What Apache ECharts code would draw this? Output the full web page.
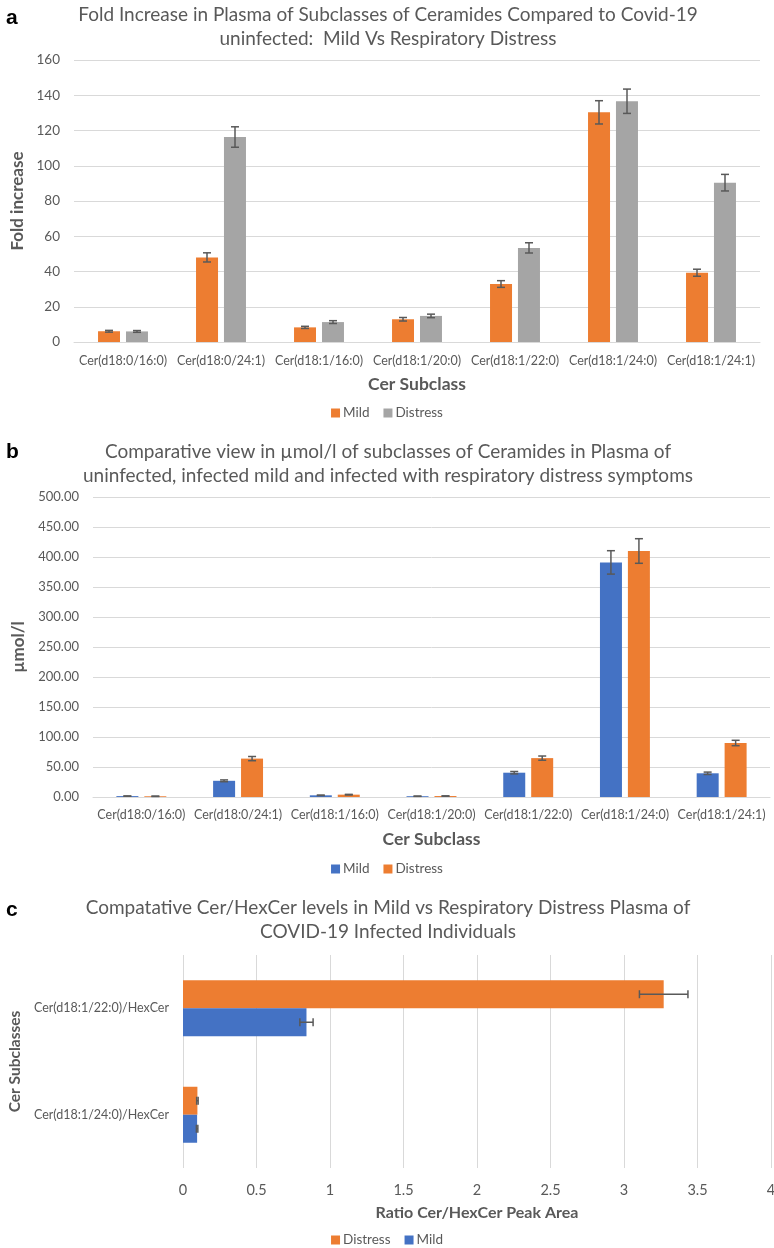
<!DOCTYPE html>
<html><head><meta charset="utf-8">
<script src="https://cdn.jsdelivr.net/npm/echarts@6/dist/echarts.min.js"></script>
<style>html,body{margin:0;padding:0;background:#fff;width:774px;height:1248px;overflow:hidden}
.p{position:absolute;left:0;width:774px}</style></head>
<body>
<div id="ca" class="p" style="top:0;height:440px"></div>
<div id="cb" class="p" style="top:440px;height:450px"></div>
<div id="cc" class="p" style="top:890px;height:358px"></div>
<script>
// ---------- data ----------
const categories = ['Cer(d18:0/16:0)','Cer(d18:0/24:1)','Cer(d18:1/16:0)','Cer(d18:1/20:0)','Cer(d18:1/22:0)','Cer(d18:1/24:0)','Cer(d18:1/24:1)'];
// panel a: fold increase
const foldMild = [6.1, 48.0, 8.3, 12.9, 32.9, 130.3, 39.3];
const foldMildErr = [0.5, 2.6, 0.6, 1.0, 1.9, 6.6, 2.0];
const foldDistress = [6.0, 116.3, 11.3, 14.8, 53.4, 136.6, 90.4];
const foldDistressErr = [0.5, 5.8, 0.8, 1.0, 2.9, 6.9, 4.7];
// panel b: umol/l
const umolMild = [1.5, 27.0, 2.8, 1.3, 40.5, 391, 39.5];
const umolMildErr = [0.3, 1.5, 0.4, 0.2, 2.0, 19.5, 2.0];
const umolDistress = [1.2, 64.0, 3.9, 1.6, 64.8, 410, 90.0];
const umolDistressErr = [0.3, 3.5, 0.5, 0.3, 3.5, 20.5, 4.5];
// panel c: ratio Cer/HexCer (bottom to top)
const ratioCategories = ['Cer(d18:1/24:0)/HexCer','Cer(d18:1/22:0)/HexCer'];
const ratioDistress = [0.098, 3.27];
const ratioDistressErr = [0.005, 0.165];
const ratioMild = [0.096, 0.84];
const ratioMildErr = [0.005, 0.045];

// ---------- style ----------
const FONT = 'Lato, "Liberation Sans", sans-serif';
const TXT = '#595959';
const GRID = '#D9D9D9';
const ORANGE = '#ED7D31', GRAY = '#A5A5A5', BLUE = '#4472C4';
const ERR = '#595959';

function errData(vals, errs){ return vals.map((v,i)=>[i, v-errs[i], v+errs[i]]); }
function errV(offset){
  return function(params, api){
    const x = api.value(0), lo = api.value(1), hi = api.value(2);
    const p1 = api.coord([x, hi]), p2 = api.coord([x, lo]);
    const cx = p1[0] + offset, w = 4;
    const st = {stroke: ERR, lineWidth: 1.5};
    return {type:'group', children:[
      {type:'line', shape:{x1:cx,y1:p1[1],x2:cx,y2:p2[1]}, style:st},
      {type:'line', shape:{x1:cx-w,y1:p1[1],x2:cx+w,y2:p1[1]}, style:st},
      {type:'line', shape:{x1:cx-w,y1:p2[1],x2:cx+w,y2:p2[1]}, style:st}
    ]};
  };
}
function errH(offset){
  return function(params, api){
    const y = api.value(0), lo = api.value(1), hi = api.value(2);
    const p1 = api.coord([lo, y]), p2 = api.coord([hi, y]);
    const cy = p1[1] + offset, h = 4;
    const st = {stroke: ERR, lineWidth: 1.5};
    return {type:'group', children:[
      {type:'line', shape:{x1:p1[0],y1:cy,x2:p2[0],y2:cy}, style:st},
      {type:'line', shape:{x1:p1[0],y1:cy-h,x2:p1[0],y2:cy+h}, style:st},
      {type:'line', shape:{x1:p2[0],y1:cy-h,x2:p2[0],y2:cy+h}, style:st}
    ]};
  };
}
function letter(t, y){
  return {type:'text', left:6, top:y, style:{text:t, font:'bold 21px "Liberation Sans", Arial, sans-serif', fill:'#000'}};
}
function titleText(text, y){
  return {type:'text', x:388, y:y, style:{text:text, align:'center', verticalAlign:'top',
    fontFamily:FONT, fontSize:19, fill:TXT, lineHeight:24}};
}
function legendOpt(names, top){
  return {data:names, left:'center', top:top, padding:0, icon:'rect', itemWidth:9, itemHeight:9, itemGap:14,
    textStyle:{fontFamily:FONT, fontSize:13.5, color:TXT, padding:[0,0,0,-2]}};
}
const catLabel = {fontFamily:FONT, fontSize:12.5, color:TXT};
const axTitle = (s)=>({fontFamily:FONT, fontSize:s, fontWeight:'bold', color:TXT});

// ---------- panel a ----------
const ca = echarts.init(document.getElementById('ca'), null, {renderer:'canvas'});
ca.setOption({
  animation:false,
  graphic:[letter('a', 8), titleText('Fold Increase in Plasma of Subclasses of Ceramides Compared to Covid-19\nuninfected:  Mild Vs Respiratory Distress', 3)],
  legend: legendOpt(['Mild','Distress'], 406),
  grid:{left:74, top:60, width:686, height:282, outerBoundsMode:'none'},
  xAxis:{type:'category', data:categories, axisTick:{show:false},
    axisLine:{lineStyle:{color:GRID, width:1}},
    axisLabel:Object.assign({margin:12, interval:0}, catLabel),
    name:'Cer Subclass', nameLocation:'middle', nameGap:33, nameTextStyle:axTitle(17.5)},
  yAxis:{type:'value', min:0, max:160, interval:20,
    axisLabel:{fontFamily:FONT, fontSize:13.5, color:TXT, margin:14},
    splitLine:{lineStyle:{color:GRID, width:1}},
    name:'Fold increase', nameLocation:'middle', nameGap:38, nameRotate:90, nameTextStyle:axTitle(17)},
  series:[
    {name:'Mild', type:'bar', data:foldMild, barWidth:22, barGap:'27%', itemStyle:{color:ORANGE}},
    {name:'Distress', type:'bar', data:foldDistress, barWidth:22, barGap:'27%', itemStyle:{color:GRAY}},
    {type:'custom', renderItem:errV(-14), data:errData(foldMild, foldMildErr), encode:{x:0, y:[1,2]}, z:5},
    {type:'custom', renderItem:errV(14), data:errData(foldDistress, foldDistressErr), encode:{x:0, y:[1,2]}, z:5}
  ]
});

// ---------- panel b ----------
const cb = echarts.init(document.getElementById('cb'), null, {renderer:'canvas'});
cb.setOption({
  animation:false,
  graphic:[letter('b', 2), titleText('Comparative view in µmol/l of subclasses of Ceramides in Plasma of\nuninfected, infected mild and infected with respiratory distress symptoms', 0)],
  legend: legendOpt(['Mild','Distress'], 422),
  grid:{left:93, top:57, width:677, height:300, outerBoundsMode:'none'},
  xAxis:{type:'category', data:categories, axisTick:{show:false},
    axisLine:{lineStyle:{color:GRID, width:1}},
    axisLabel:Object.assign({margin:11, interval:0}, catLabel),
    name:'Cer Subclass', nameLocation:'middle', nameGap:33, nameTextStyle:axTitle(17.5)},
  yAxis:{type:'value', min:0, max:500, interval:50,
    axisLabel:{fontFamily:FONT, fontSize:13, color:TXT, margin:14, formatter:v=>v.toFixed(2)},
    splitLine:{lineStyle:{color:GRID, width:1}},
    name:'µmol/l', nameLocation:'middle', nameGap:66, nameRotate:90, nameTextStyle:axTitle(17)},
  series:[
    {name:'Mild', type:'bar', data:umolMild, barWidth:22, barGap:'27%', itemStyle:{color:BLUE}},
    {name:'Distress', type:'bar', data:umolDistress, barWidth:22, barGap:'27%', itemStyle:{color:ORANGE}},
    {type:'custom', renderItem:errV(-14), data:errData(umolMild, umolMildErr), encode:{x:0, y:[1,2]}, z:5},
    {type:'custom', renderItem:errV(14), data:errData(umolDistress, umolDistressErr), encode:{x:0, y:[1,2]}, z:5}
  ]
});

// ---------- panel c ----------
const cc = echarts.init(document.getElementById('cc'), null, {renderer:'canvas'});
cc.setOption({
  animation:false,
  graphic:[letter('c', 10), titleText('Compatative Cer/HexCer levels in Mild vs Respiratory Distress Plasma of\nCOVID-19 Infected Individuals', 6)],
  legend: legendOpt(['Distress','Mild'], 343),
  grid:{left:183, top:65, width:588, height:213, outerBoundsMode:'none'},
  xAxis:{type:'value', min:0, max:4, interval:0.5,
    axisLabel:{fontFamily:FONT, fontSize:14.5, color:TXT, margin:15},
    axisLine:{show:false}, axisTick:{show:false},
    splitLine:{lineStyle:{color:GRID, width:1}},
    name:'Ratio Cer/HexCer Peak Area', nameLocation:'middle', nameGap:37, nameTextStyle:axTitle(16)},
  yAxis:{type:'category', data:ratioCategories, axisTick:{show:false}, axisLine:{show:false},
    axisLabel:{fontFamily:FONT, fontSize:12.5, color:TXT, margin:14},
    name:'Cer Subclasses', nameLocation:'middle', nameGap:149, nameRotate:90, nameTextStyle:axTitle(15.5)},
  series:[
    {name:'Distress', type:'bar', data:ratioDistress, barWidth:28, barGap:'0%', itemStyle:{color:ORANGE}},
    {name:'Mild', type:'bar', data:ratioMild, barWidth:28, barGap:'0%', itemStyle:{color:BLUE}},
    {type:'custom', renderItem:errH(-14), data:errData(ratioDistress, ratioDistressErr), encode:{y:0, x:[1,2]}, z:5},
    {type:'custom', renderItem:errH(14), data:errData(ratioMild, ratioMildErr), encode:{y:0, x:[1,2]}, z:5}
  ]
});
</script>
</body></html>
